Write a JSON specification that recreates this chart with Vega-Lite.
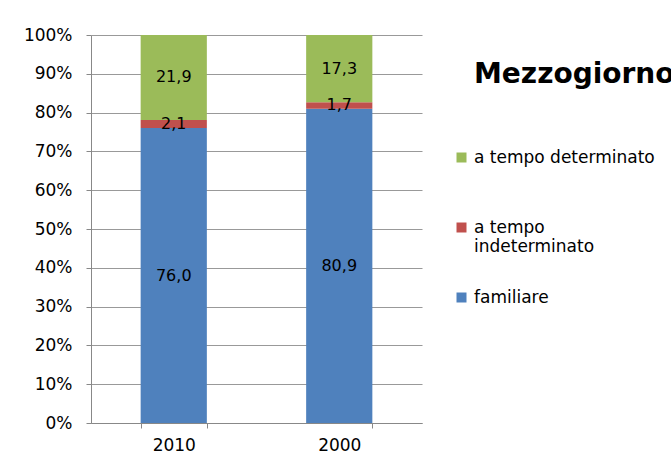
{
  "$schema": "https://vega.github.io/schema/vega-lite/v6.json",
  "width": 331,
  "height": 388,
  "autosize": "none",
  "padding": {"left": 91, "top": 35, "right": 249, "bottom": 50},
  "background": "white",
  "config": {
    "locale": {"number": {"decimal": ",", "thousands": ".", "grouping": [3], "currency": ["€", ""]}},
    "view": {"stroke": null},
    "font": "DejaVu Sans"
  },
  "data": {
    "values": [
      {"anno": "2010", "tipo": "familiare", "valore": 76.0},
      {"anno": "2010", "tipo": "a tempo indeterminato", "valore": 2.1},
      {"anno": "2010", "tipo": "a tempo determinato", "valore": 21.9},
      {"anno": "2000", "tipo": "familiare", "valore": 80.9},
      {"anno": "2000", "tipo": "a tempo indeterminato", "valore": 1.7},
      {"anno": "2000", "tipo": "a tempo determinato", "valore": 17.3}
    ]
  },
  "encoding": {
    "x": {
      "field": "anno", "type": "nominal", "sort": ["2010", "2000"],
      "scale": {"paddingInner": 0.6, "paddingOuter": 0.3},
      "axis": {"title": null, "labelAngle": 0, "labelFontSize": 17, "labelColor": "#000", "domainColor": "#888", "tickColor": "#888", "tickSize": 5, "tickBand": "extent", "labelPadding": 9}
    },
    "y": {
      "field": "valore", "type": "quantitative", "stack": "normalize",
      "axis": {"title": null, "format": ".0%", "values": [0,0.1,0.2,0.3,0.4,0.5,0.6,0.7,0.8,0.9,1], "labelOverlap": false, "labelFontSize": 17, "labelColor": "#000", "domain": true, "domainColor": "#888", "tickColor": "#888", "tickSize": 5, "gridColor": "#999", "labelPadding": 14}
    },
    "order": {"field": "tipo", "sort": "descending"}
  },
  "layer": [
    {
      "mark": {"type": "bar"},
      "encoding": {
        "color": {
          "field": "tipo", "type": "nominal",
          "scale": {"domain": ["a tempo determinato", "a tempo indeterminato", "familiare"], "range": ["#9BBB59", "#C0504D", "#4F81BD"]},
          "legend": {
            "title": "Mezzogiorno",
            "orient": "none",
            "legendX": 383,
            "legendY": 26,
            "titleFont": "DejaVu Sans",
            "titleFontSize": 28,
            "titleFontWeight": "bold",
            "titleColor": "#000",
            "titlePadding": 60,
            "titleLimit": 400,
            "symbolType": "square",
            "symbolSize": 100,
            "symbolStrokeWidth": 0,
            "symbolOffset": -21,
            "labelFontSize": 17,
            "labelColor": "#000",
            "labelLimit": 300,
            "labelOffset": 4,
            "rowPadding": 33,
            "labelExpr": "datum.label == 'a tempo indeterminato' ? ['a tempo', 'indeterminato'] : [datum.label, '']"
          }
        }
      }
    },
    {
      "mark": {"type": "text", "fontSize": 16, "color": "#000"},
      "encoding": {
        "y": {"field": "valore", "type": "quantitative", "stack": "normalize", "bandPosition": 0.5},
        "text": {"field": "valore", "type": "quantitative", "format": ".1f"}
      }
    }
  ]
}
